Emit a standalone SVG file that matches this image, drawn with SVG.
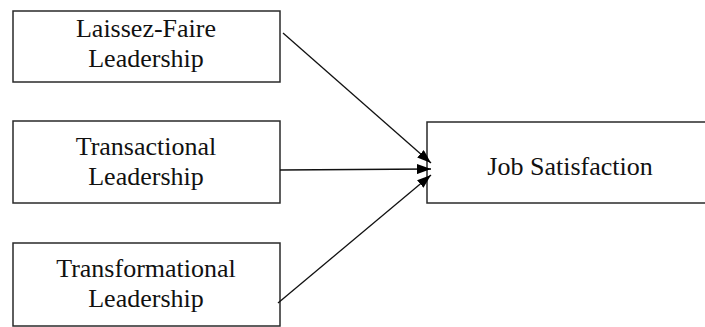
<svg xmlns="http://www.w3.org/2000/svg" width="705" height="327" viewBox="0 0 705 327">
<style>
.box{fill:#fff;stroke:#2a2a2a;stroke-width:1.5}
.t{font-family:"Liberation Serif","Times New Roman",serif;font-size:26px;fill:#111;text-anchor:middle}
.c{stroke:#111;stroke-width:1.3;fill:none;marker-end:url(#ah)}
</style>
<defs>
<marker id="ah" viewBox="0 0 14 10" refX="14" refY="5" markerWidth="14" markerHeight="10" markerUnits="userSpaceOnUse" orient="auto">
<path d="M0,0 L14,5 L0,10 z" fill="#000"/>
</marker>
</defs>
<rect width="705" height="327" fill="#fff"/>
<g id="laissez">
<rect class="box" x="13" y="11" width="267" height="71"/>
<text class="t" x="146" y="37">Laissez-Faire</text>
<text class="t" x="146" y="67">Leadership</text>
</g>
<g id="transactional">
<rect class="box" x="13" y="121" width="267" height="82"/>
<text class="t" x="146" y="155">Transactional</text>
<text class="t" x="146" y="185">Leadership</text>
</g>
<g id="transformational">
<rect class="box" x="13" y="243" width="267" height="83"/>
<text class="t" x="146" y="277">Transformational</text>
<text class="t" x="146" y="307">Leadership</text>
</g>
<g id="job">
<rect class="box" x="427" y="122" width="280" height="81"/>
<text class="t" x="570" y="175">Job Satisfaction</text>
</g>
<g id="connectors">
<line class="c" x1="283" y1="33" x2="431" y2="163"/>
<line class="c" x1="280" y1="170" x2="431" y2="169"/>
<line class="c" x1="278" y1="303" x2="431" y2="175"/>
</g>
</svg>
